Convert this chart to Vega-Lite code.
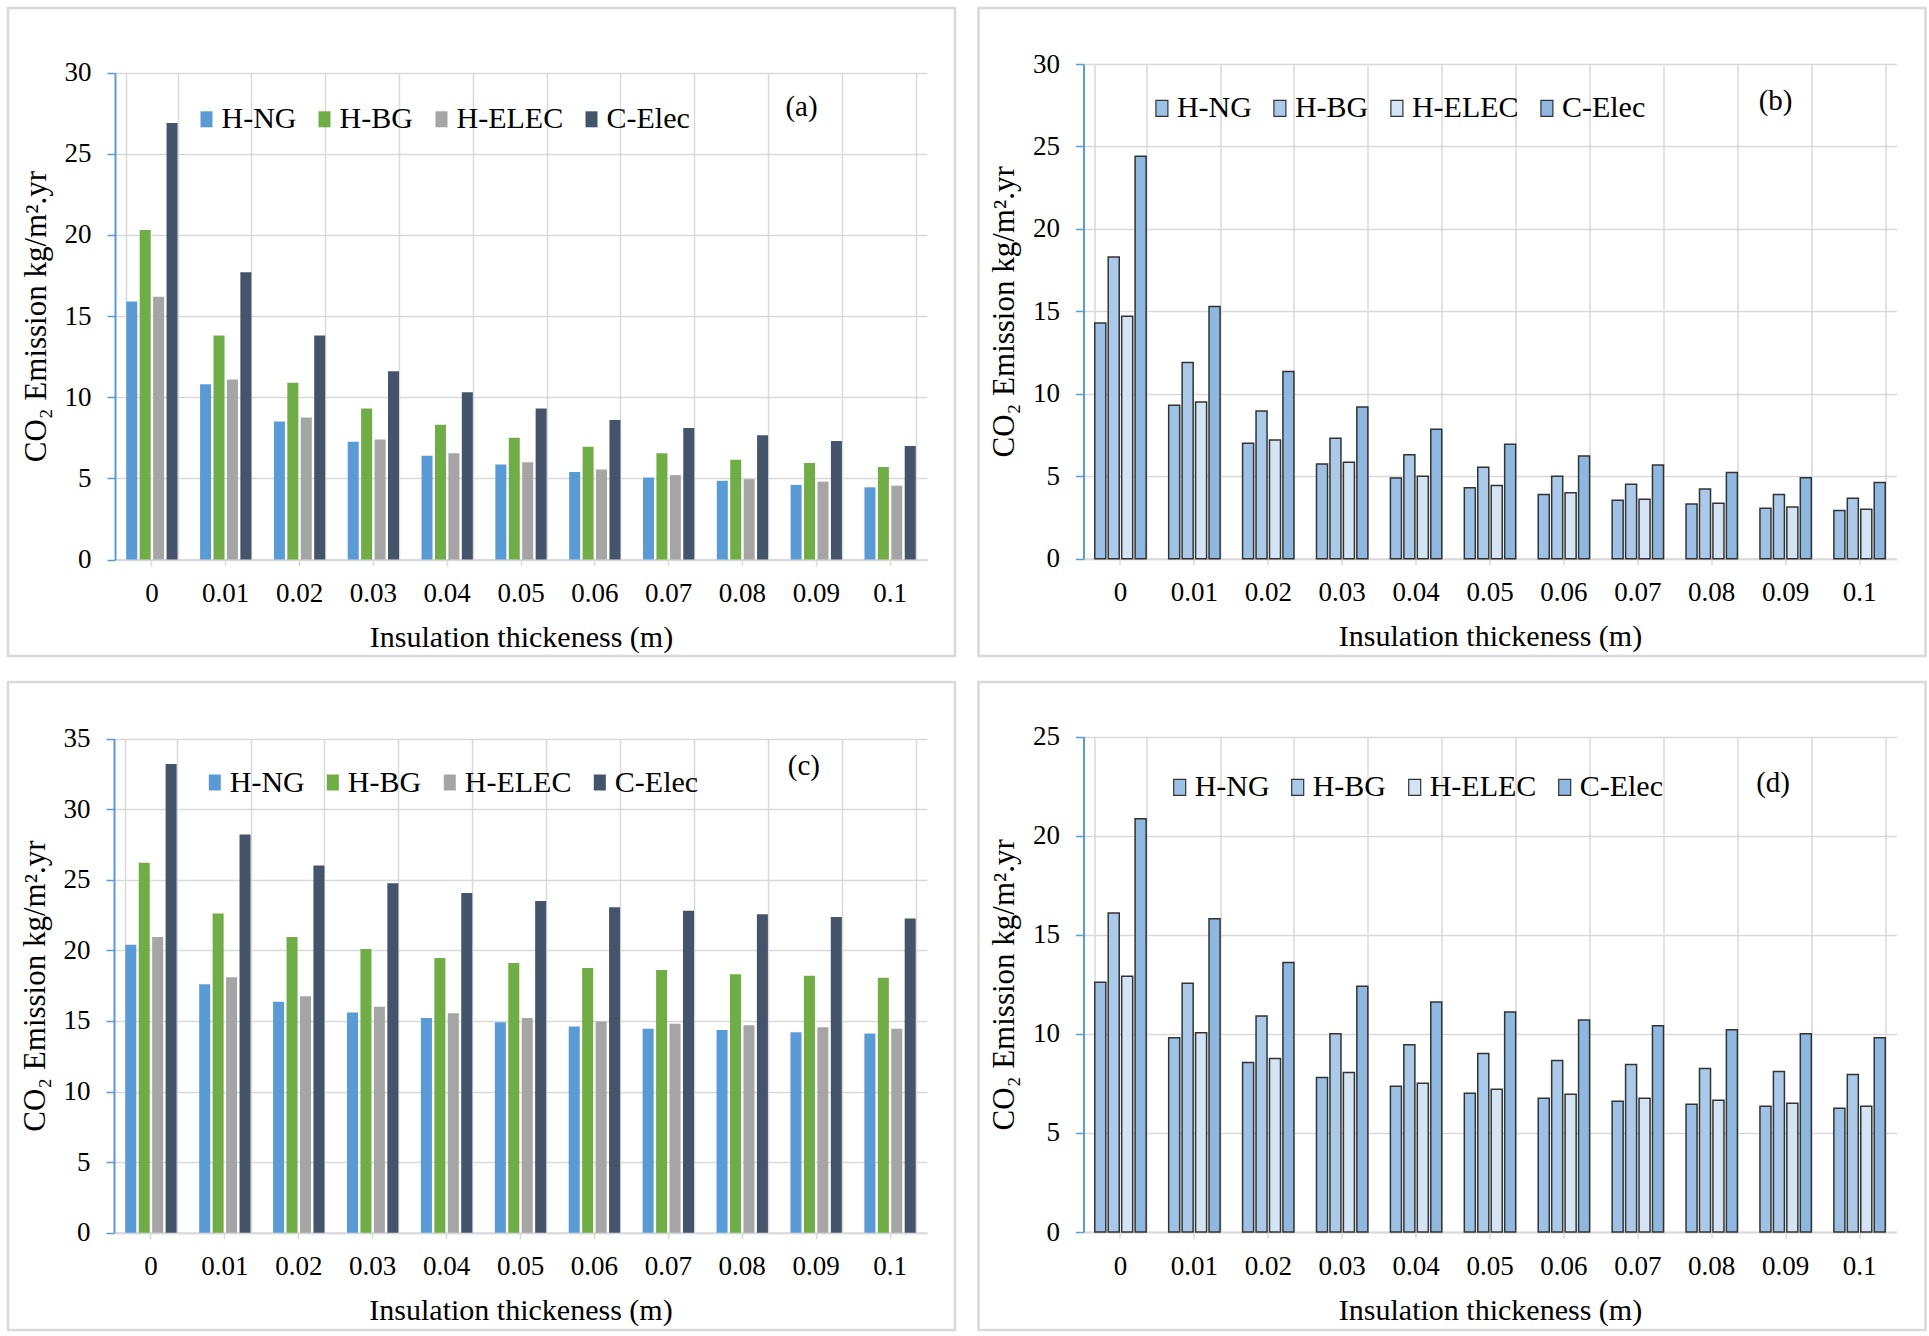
{
  "$schema": "https://vega.github.io/schema/vega-lite/v6.json",
  "background": "white",
  "padding": {"left": 6, "top": 6, "right": 0, "bottom": 0},
  "datasets": {
    "a": [
      {"t":"0","s":"H-NG","v":15.9},{"t":"0","s":"H-BG","v":20.3},{"t":"0","s":"H-ELEC","v":16.2},{"t":"0","s":"C-Elec","v":26.9},
      {"t":"0.01","s":"H-NG","v":10.8},{"t":"0.01","s":"H-BG","v":13.8},{"t":"0.01","s":"H-ELEC","v":11.1},{"t":"0.01","s":"C-Elec","v":17.7},
      {"t":"0.02","s":"H-NG","v":8.5},{"t":"0.02","s":"H-BG","v":10.9},{"t":"0.02","s":"H-ELEC","v":8.75},{"t":"0.02","s":"C-Elec","v":13.8},
      {"t":"0.03","s":"H-NG","v":7.25},{"t":"0.03","s":"H-BG","v":9.3},{"t":"0.03","s":"H-ELEC","v":7.4},{"t":"0.03","s":"C-Elec","v":11.6},
      {"t":"0.04","s":"H-NG","v":6.4},{"t":"0.04","s":"H-BG","v":8.3},{"t":"0.04","s":"H-ELEC","v":6.55},{"t":"0.04","s":"C-Elec","v":10.3},
      {"t":"0.05","s":"H-NG","v":5.85},{"t":"0.05","s":"H-BG","v":7.5},{"t":"0.05","s":"H-ELEC","v":6.0},{"t":"0.05","s":"C-Elec","v":9.3},
      {"t":"0.06","s":"H-NG","v":5.4},{"t":"0.06","s":"H-BG","v":6.95},{"t":"0.06","s":"H-ELEC","v":5.55},{"t":"0.06","s":"C-Elec","v":8.6},
      {"t":"0.07","s":"H-NG","v":5.05},{"t":"0.07","s":"H-BG","v":6.55},{"t":"0.07","s":"H-ELEC","v":5.2},{"t":"0.07","s":"C-Elec","v":8.1},
      {"t":"0.08","s":"H-NG","v":4.85},{"t":"0.08","s":"H-BG","v":6.15},{"t":"0.08","s":"H-ELEC","v":4.95},{"t":"0.08","s":"C-Elec","v":7.65},
      {"t":"0.09","s":"H-NG","v":4.6},{"t":"0.09","s":"H-BG","v":5.95},{"t":"0.09","s":"H-ELEC","v":4.8},{"t":"0.09","s":"C-Elec","v":7.3},
      {"t":"0.1","s":"H-NG","v":4.45},{"t":"0.1","s":"H-BG","v":5.7},{"t":"0.1","s":"H-ELEC","v":4.55},{"t":"0.1","s":"C-Elec","v":7.0}
    ],
    "b": [
      {"t":"0","s":"H-NG","v":14.3},{"t":"0","s":"H-BG","v":18.3},{"t":"0","s":"H-ELEC","v":14.7},{"t":"0","s":"C-Elec","v":24.4},
      {"t":"0.01","s":"H-NG","v":9.3},{"t":"0.01","s":"H-BG","v":11.9},{"t":"0.01","s":"H-ELEC","v":9.5},{"t":"0.01","s":"C-Elec","v":15.3},
      {"t":"0.02","s":"H-NG","v":7.0},{"t":"0.02","s":"H-BG","v":8.95},{"t":"0.02","s":"H-ELEC","v":7.2},{"t":"0.02","s":"C-Elec","v":11.35},
      {"t":"0.03","s":"H-NG","v":5.75},{"t":"0.03","s":"H-BG","v":7.3},{"t":"0.03","s":"H-ELEC","v":5.85},{"t":"0.03","s":"C-Elec","v":9.2},
      {"t":"0.04","s":"H-NG","v":4.9},{"t":"0.04","s":"H-BG","v":6.3},{"t":"0.04","s":"H-ELEC","v":5.0},{"t":"0.04","s":"C-Elec","v":7.85},
      {"t":"0.05","s":"H-NG","v":4.3},{"t":"0.05","s":"H-BG","v":5.54},{"t":"0.05","s":"H-ELEC","v":4.44},{"t":"0.05","s":"C-Elec","v":6.94},
      {"t":"0.06","s":"H-NG","v":3.9},{"t":"0.06","s":"H-BG","v":5.0},{"t":"0.06","s":"H-ELEC","v":4.0},{"t":"0.06","s":"C-Elec","v":6.23},
      {"t":"0.07","s":"H-NG","v":3.55},{"t":"0.07","s":"H-BG","v":4.52},{"t":"0.07","s":"H-ELEC","v":3.61},{"t":"0.07","s":"C-Elec","v":5.68},
      {"t":"0.08","s":"H-NG","v":3.31},{"t":"0.08","s":"H-BG","v":4.22},{"t":"0.08","s":"H-ELEC","v":3.37},{"t":"0.08","s":"C-Elec","v":5.23},
      {"t":"0.09","s":"H-NG","v":3.06},{"t":"0.09","s":"H-BG","v":3.89},{"t":"0.09","s":"H-ELEC","v":3.14},{"t":"0.09","s":"C-Elec","v":4.91},
      {"t":"0.1","s":"H-NG","v":2.92},{"t":"0.1","s":"H-BG","v":3.67},{"t":"0.1","s":"H-ELEC","v":3.0},{"t":"0.1","s":"C-Elec","v":4.62}
    ],
    "c": [
      {"t":"0","s":"H-NG","v":20.4},{"t":"0","s":"H-BG","v":26.2},{"t":"0","s":"H-ELEC","v":20.95},{"t":"0","s":"C-Elec","v":33.2},
      {"t":"0.01","s":"H-NG","v":17.6},{"t":"0.01","s":"H-BG","v":22.6},{"t":"0.01","s":"H-ELEC","v":18.1},{"t":"0.01","s":"C-Elec","v":28.2},
      {"t":"0.02","s":"H-NG","v":16.35},{"t":"0.02","s":"H-BG","v":20.95},{"t":"0.02","s":"H-ELEC","v":16.75},{"t":"0.02","s":"C-Elec","v":26.0},
      {"t":"0.03","s":"H-NG","v":15.6},{"t":"0.03","s":"H-BG","v":20.1},{"t":"0.03","s":"H-ELEC","v":16.0},{"t":"0.03","s":"C-Elec","v":24.75},
      {"t":"0.04","s":"H-NG","v":15.2},{"t":"0.04","s":"H-BG","v":19.45},{"t":"0.04","s":"H-ELEC","v":15.55},{"t":"0.04","s":"C-Elec","v":24.05},
      {"t":"0.05","s":"H-NG","v":14.9},{"t":"0.05","s":"H-BG","v":19.1},{"t":"0.05","s":"H-ELEC","v":15.2},{"t":"0.05","s":"C-Elec","v":23.5},
      {"t":"0.06","s":"H-NG","v":14.6},{"t":"0.06","s":"H-BG","v":18.75},{"t":"0.06","s":"H-ELEC","v":14.95},{"t":"0.06","s":"C-Elec","v":23.05},
      {"t":"0.07","s":"H-NG","v":14.45},{"t":"0.07","s":"H-BG","v":18.6},{"t":"0.07","s":"H-ELEC","v":14.8},{"t":"0.07","s":"C-Elec","v":22.8},
      {"t":"0.08","s":"H-NG","v":14.35},{"t":"0.08","s":"H-BG","v":18.3},{"t":"0.08","s":"H-ELEC","v":14.7},{"t":"0.08","s":"C-Elec","v":22.55},
      {"t":"0.09","s":"H-NG","v":14.2},{"t":"0.09","s":"H-BG","v":18.2},{"t":"0.09","s":"H-ELEC","v":14.55},{"t":"0.09","s":"C-Elec","v":22.35},
      {"t":"0.1","s":"H-NG","v":14.1},{"t":"0.1","s":"H-BG","v":18.05},{"t":"0.1","s":"H-ELEC","v":14.45},{"t":"0.1","s":"C-Elec","v":22.25}
    ],
    "d": [
      {"t":"0","s":"H-NG","v":12.6},{"t":"0","s":"H-BG","v":16.1},{"t":"0","s":"H-ELEC","v":12.9},{"t":"0","s":"C-Elec","v":20.85},
      {"t":"0.01","s":"H-NG","v":9.8},{"t":"0.01","s":"H-BG","v":12.55},{"t":"0.01","s":"H-ELEC","v":10.05},{"t":"0.01","s":"C-Elec","v":15.8},
      {"t":"0.02","s":"H-NG","v":8.55},{"t":"0.02","s":"H-BG","v":10.9},{"t":"0.02","s":"H-ELEC","v":8.75},{"t":"0.02","s":"C-Elec","v":13.6},
      {"t":"0.03","s":"H-NG","v":7.8},{"t":"0.03","s":"H-BG","v":10.0},{"t":"0.03","s":"H-ELEC","v":8.05},{"t":"0.03","s":"C-Elec","v":12.4},
      {"t":"0.04","s":"H-NG","v":7.35},{"t":"0.04","s":"H-BG","v":9.45},{"t":"0.04","s":"H-ELEC","v":7.5},{"t":"0.04","s":"C-Elec","v":11.6},
      {"t":"0.05","s":"H-NG","v":7.0},{"t":"0.05","s":"H-BG","v":9.0},{"t":"0.05","s":"H-ELEC","v":7.2},{"t":"0.05","s":"C-Elec","v":11.1},
      {"t":"0.06","s":"H-NG","v":6.75},{"t":"0.06","s":"H-BG","v":8.65},{"t":"0.06","s":"H-ELEC","v":6.95},{"t":"0.06","s":"C-Elec","v":10.7},
      {"t":"0.07","s":"H-NG","v":6.6},{"t":"0.07","s":"H-BG","v":8.45},{"t":"0.07","s":"H-ELEC","v":6.75},{"t":"0.07","s":"C-Elec","v":10.4},
      {"t":"0.08","s":"H-NG","v":6.45},{"t":"0.08","s":"H-BG","v":8.25},{"t":"0.08","s":"H-ELEC","v":6.65},{"t":"0.08","s":"C-Elec","v":10.2},
      {"t":"0.09","s":"H-NG","v":6.35},{"t":"0.09","s":"H-BG","v":8.1},{"t":"0.09","s":"H-ELEC","v":6.5},{"t":"0.09","s":"C-Elec","v":10.0},
      {"t":"0.1","s":"H-NG","v":6.25},{"t":"0.1","s":"H-BG","v":7.95},{"t":"0.1","s":"H-ELEC","v":6.35},{"t":"0.1","s":"C-Elec","v":9.8}
    ]
  },
  "concat": [
    {
      "width": 947, "height": 648,
      "data": {"name": "a"},
      "title": {"text": "(a)", "anchor": "end", "frame": "group", "orient": "top", "offset": 0, "baseline": "middle", "dx": -137.4, "dy": 128.3},
      "layer": [
        {
          "mark": {"type": "bar"},
          "encoding": {
            "x": {"field": "t", "type": "ordinal", "sort": null, "scale": {"range": [107, 919], "paddingInner": 0.305, "paddingOuter": 0.1525},
                  "axis": {"orient": "top", "title": null, "labels": false, "domain": false, "ticks": false, "grid": true, "tickBand": "extent"}},
            "xOffset": {"field": "s", "type": "nominal", "sort": ["H-NG", "H-BG", "H-ELEC", "C-Elec"], "scale": {"paddingInner": 0.18, "paddingOuter": 0}},
            "y": {"field": "v", "type": "quantitative", "scale": {"domain": [0, 30], "range": [551.5, 64.7], "nice": false},
                  "axis": {"title": "CO₂ Emission kg/m².yr", "offset": -107, "values": [0, 5, 10, 15, 20, 25, 30]}},
            "color": {"field": "s", "type": "nominal", "sort": ["H-NG", "H-BG", "H-ELEC", "C-Elec"],
                      "scale": {"domain": ["H-NG", "H-BG", "H-ELEC", "C-Elec"], "range": ["#5b9bd5", "#70ad47", "#a5a5a5", "#44546a"]},
                      "legend": {"title": null, "orient": "none", "direction": "horizontal", "columns": 4, "legendX": 183.5, "legendY": 96.3, "symbolType": "M-0.75,-1H0.75V1H-0.75Z", "symbolSize": 256, "symbolStrokeWidth": 0}}
          }
        },
        {
          "mark": {"type": "bar", "opacity": 0},
          "encoding": {
            "x": {"field": "t", "type": "ordinal", "sort": null,
                  "axis": {"title": "Insulation thickeness (m)", "offset": -96.5, "orient": "bottom", "grid": false, "ticks": true, "tickSize": 6, "labelPadding": 15}}
          }
        }
      ],
      "resolve": {"axis": {"x": "independent"}}
    },
    {
      "width": 947, "height": 648,
      "data": {"name": "b"},
      "title": {"text": "(b)", "anchor": "end", "frame": "group", "orient": "top", "offset": 0, "baseline": "middle", "dx": -133, "dy": 121.9},
      "layer": [
        {
          "mark": {"type": "bar", "stroke": "#333333", "strokeWidth": 1.5},
          "encoding": {
            "x": {"field": "t", "type": "ordinal", "sort": null, "scale": {"range": [105, 918], "paddingInner": 0.305, "paddingOuter": 0.1525},
                  "axis": {"orient": "top", "title": null, "labels": false, "domain": false, "ticks": false, "grid": true, "tickBand": "extent"}},
            "xOffset": {"field": "s", "type": "nominal", "sort": ["H-NG", "H-BG", "H-ELEC", "C-Elec"], "scale": {"paddingInner": 0.18, "paddingOuter": 0}},
            "y": {"field": "v", "type": "quantitative", "scale": {"domain": [0, 30], "range": [550.7, 56], "nice": false},
                  "axis": {"title": "CO₂ Emission kg/m².yr", "offset": -105, "values": [0, 5, 10, 15, 20, 25, 30]}},
            "color": {"field": "s", "type": "nominal", "sort": ["H-NG", "H-BG", "H-ELEC", "C-Elec"],
                      "scale": {"domain": ["H-NG", "H-BG", "H-ELEC", "C-Elec"], "range": ["#9ec2e6", "#abcaea", "#d3e4f4", "#8fb8e0"]},
                      "legend": {"title": null, "orient": "none", "direction": "horizontal", "columns": 4, "legendX": 168.4, "legendY": 85.3, "symbolType": "M-0.75,-1H0.75V1H-0.75Z", "symbolSize": 256, "symbolStrokeColor": "#333333", "symbolStrokeWidth": 1.2}}
          }
        },
        {
          "mark": {"type": "bar", "opacity": 0},
          "encoding": {
            "x": {"field": "t", "type": "ordinal", "sort": null,
                  "axis": {"title": "Insulation thickeness (m)", "offset": -97.3, "orient": "bottom", "grid": false, "ticks": true, "tickSize": 6, "labelPadding": 15}}
          }
        }
      ],
      "resolve": {"axis": {"x": "independent"}}
    },
    {
      "width": 947, "height": 648,
      "data": {"name": "c"},
      "title": {"text": "(c)", "anchor": "end", "frame": "group", "orient": "top", "offset": 0, "baseline": "middle", "dx": -135, "dy": 113.4},
      "layer": [
        {
          "mark": {"type": "bar"},
          "encoding": {
            "x": {"field": "t", "type": "ordinal", "sort": null, "scale": {"range": [106, 919], "paddingInner": 0.305, "paddingOuter": 0.1525},
                  "axis": {"orient": "top", "title": null, "labels": false, "domain": false, "ticks": false, "grid": true, "tickBand": "extent"}},
            "xOffset": {"field": "s", "type": "nominal", "sort": ["H-NG", "H-BG", "H-ELEC", "C-Elec"], "scale": {"paddingInner": 0.18, "paddingOuter": 0}},
            "y": {"field": "v", "type": "quantitative", "scale": {"domain": [0, 35], "range": [550.7, 56.5], "nice": false},
                  "axis": {"title": "CO₂ Emission kg/m².yr", "offset": -106, "values": [0, 5, 10, 15, 20, 25, 30, 35]}},
            "color": {"field": "s", "type": "nominal", "sort": ["H-NG", "H-BG", "H-ELEC", "C-Elec"],
                      "scale": {"domain": ["H-NG", "H-BG", "H-ELEC", "C-Elec"], "range": ["#5b9bd5", "#70ad47", "#a5a5a5", "#44546a"]},
                      "legend": {"title": null, "orient": "none", "direction": "horizontal", "columns": 4, "legendX": 191.8, "legendY": 85.5, "symbolType": "M-0.75,-1H0.75V1H-0.75Z", "symbolSize": 256, "symbolStrokeWidth": 0}}
          }
        },
        {
          "mark": {"type": "bar", "opacity": 0},
          "encoding": {
            "x": {"field": "t", "type": "ordinal", "sort": null,
                  "axis": {"title": "Insulation thickeness (m)", "offset": -97.3, "orient": "bottom", "grid": false, "ticks": true, "tickSize": 6, "labelPadding": 15}}
          }
        }
      ],
      "resolve": {"axis": {"x": "independent"}}
    },
    {
      "width": 947, "height": 648,
      "data": {"name": "d"},
      "title": {"text": "(d)", "anchor": "end", "frame": "group", "orient": "top", "offset": 0, "baseline": "middle", "dx": -135.5, "dy": 130.4},
      "layer": [
        {
          "mark": {"type": "bar", "stroke": "#333333", "strokeWidth": 1.5},
          "encoding": {
            "x": {"field": "t", "type": "ordinal", "sort": null, "scale": {"range": [105, 918], "paddingInner": 0.305, "paddingOuter": 0.1525},
                  "axis": {"orient": "top", "title": null, "labels": false, "domain": false, "ticks": false, "grid": true, "tickBand": "extent"}},
            "xOffset": {"field": "s", "type": "nominal", "sort": ["H-NG", "H-BG", "H-ELEC", "C-Elec"], "scale": {"paddingInner": 0.18, "paddingOuter": 0}},
            "y": {"field": "v", "type": "quantitative", "scale": {"domain": [0, 25], "range": [550, 54.5], "nice": false},
                  "axis": {"title": "CO₂ Emission kg/m².yr", "offset": -105, "values": [0, 5, 10, 15, 20, 25]}},
            "color": {"field": "s", "type": "nominal", "sort": ["H-NG", "H-BG", "H-ELEC", "C-Elec"],
                      "scale": {"domain": ["H-NG", "H-BG", "H-ELEC", "C-Elec"], "range": ["#9ec2e6", "#abcaea", "#d3e4f4", "#8fb8e0"]},
                      "legend": {"title": null, "orient": "none", "direction": "horizontal", "columns": 4, "legendX": 186.2, "legendY": 90.3, "symbolType": "M-0.75,-1H0.75V1H-0.75Z", "symbolSize": 256, "symbolStrokeColor": "#333333", "symbolStrokeWidth": 1.2}}
          }
        },
        {
          "mark": {"type": "bar", "opacity": 0},
          "encoding": {
            "x": {"field": "t", "type": "ordinal", "sort": null,
                  "axis": {"title": "Insulation thickeness (m)", "offset": -98, "orient": "bottom", "grid": false, "ticks": true, "tickSize": 6, "labelPadding": 15}}
          }
        }
      ],
      "resolve": {"axis": {"x": "independent"}}
    }
  ],
  "columns": 2,
  "spacing": {"row": 26, "column": 23.5},
  "bounds": "flush",
  "resolve": {"scale": {"x": "independent", "y": "independent", "color": "independent", "xOffset": "independent"}, "legend": {"color": "independent"}},
  "config": {
    "font": "Liberation Serif",
    "view": {"stroke": "#d9d9d9", "strokeWidth": 2.5, "fill": "white"},
    "title": {"font": "Liberation Serif", "fontSize": 29, "fontWeight": "normal", "color": "black"},
    "axis": {
      "labelFont": "Liberation Serif", "labelFontSize": 27, "labelColor": "black", "labelAngle": 0,
      "titleFont": "Liberation Serif", "titleFontWeight": "normal", "titleColor": "black",
      "gridColor": "#d9d9d9", "gridWidth": 1.5,
      "tickColor": "#d9d9d9", "tickWidth": 1.5
    },
    "axisX": {"titleFontSize": 30, "titleY": 87, "titleBaseline": "alphabetic", "domainColor": "#d9d9d9", "domainWidth": 2},
    "axisY": {"titleFontSize": 31, "titleX": -70, "titleBaseline": "alphabetic", "titleAngle": 270, "domainColor": "#5b9bd5", "domainWidth": 2, "tickColor": "#5b9bd5", "tickSize": 8, "labelPadding": 16, "grid": true},
    "legend": {"labelFont": "Liberation Serif", "labelFontSize": 30, "labelColor": "black", "labelOffset": 0, "columnPadding": 13, "padding": 0, "labelLimit": 0, "symbolOpacity": 1}
  }
}
